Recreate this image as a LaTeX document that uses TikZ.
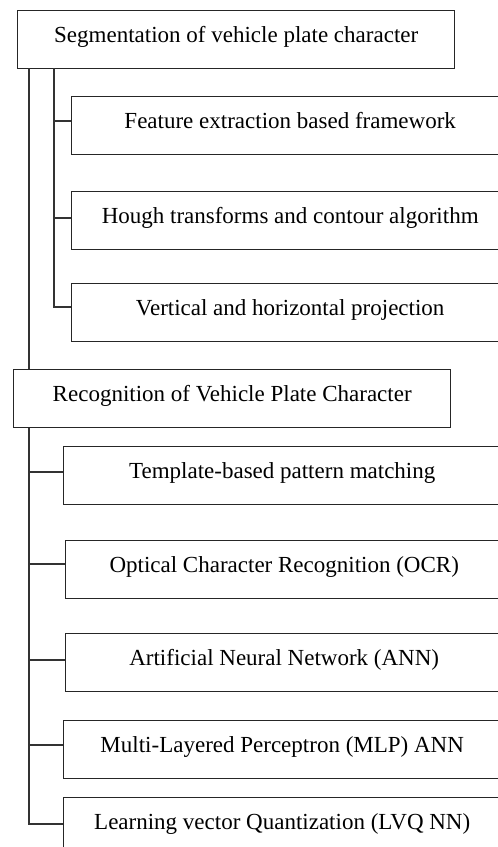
\documentclass[tikz,border=0pt]{standalone}
\usepackage{fontspec}
\setmainfont{Liberation Serif}
\begin{document}
\begin{tikzpicture}[x=1pt,y=-1pt,
  box/.style={draw=black!85, line width=1.4pt, fill=white, anchor=north west,
    inner xsep=0pt, inner ysep=0pt, minimum width=437pt, minimum height=58pt,
    text height=31.5pt, text depth=26.5pt,
    font=\fontsize{23}{27}\selectfont, text=black},
  link/.style={draw=black!80, line width=1.3pt}]
\useasboundingbox (0,0) rectangle (498,847);
\clip (0,0) rectangle (498,847);
\node[box] (seg) at (17,10) {Segmentation of vehicle plate character};
\node[box] (feat) at (71,96) {Feature extraction based framework};
\node[box] (hough) at (71,191) {Hough transforms and contour algorithm};
\node[box] (vert) at (71,283) {Vertical and horizontal projection};
\node[box] (rec) at (13,369) {Recognition of Vehicle Plate Character};
\node[box] (tmpl) at (63,446) {Template-based pattern matching};
\node[box] (ocr) at (65,540) {Optical Character Recognition (OCR)};
\node[box] (ann) at (65,633) {Artificial Neural Network (ANN)};
\node[box] (mlp) at (63,720) {Multi-Layered Perceptron (MLP) ANN};
\node[box] (lvq) at (63,797) {Learning vector Quantization (LVQ NN)};
% spines
\coordinate (s1) at (29,68);
\coordinate (s2) at (54,68);
% elbows
\coordinate (e1) at ([yshift=-25pt]feat.north west);
\coordinate (e2) at ([yshift=-27pt]hough.north west);
\coordinate (e3) at ([yshift=-24pt]vert.north west);
\coordinate (f1) at ([yshift=-26pt]tmpl.north west);
\coordinate (f2) at ([yshift=-24pt]ocr.north west);
\coordinate (f3) at ([yshift=-27pt]ann.north west);
\coordinate (f4) at ([yshift=-25pt]mlp.north west);
\coordinate (f5) at ([yshift=-27pt]lvq.north west);
% inner spine
\draw[link] (s2) |- (e3);
\draw[link] (e1) -- (e1 -| s2);
\draw[link] (e2) -- (e2 -| s2);
% outer spine
\draw[link] (s1) -- (s1 |- rec.north);
\draw[link] (s1 |- rec.south) |- (f5);
\draw[link] (f1) -- (f1 -| s1);
\draw[link] (f2) -- (f2 -| s1);
\draw[link] (f3) -- (f3 -| s1);
\draw[link] (f4) -- (f4 -| s1);
\end{tikzpicture}
\end{document}
